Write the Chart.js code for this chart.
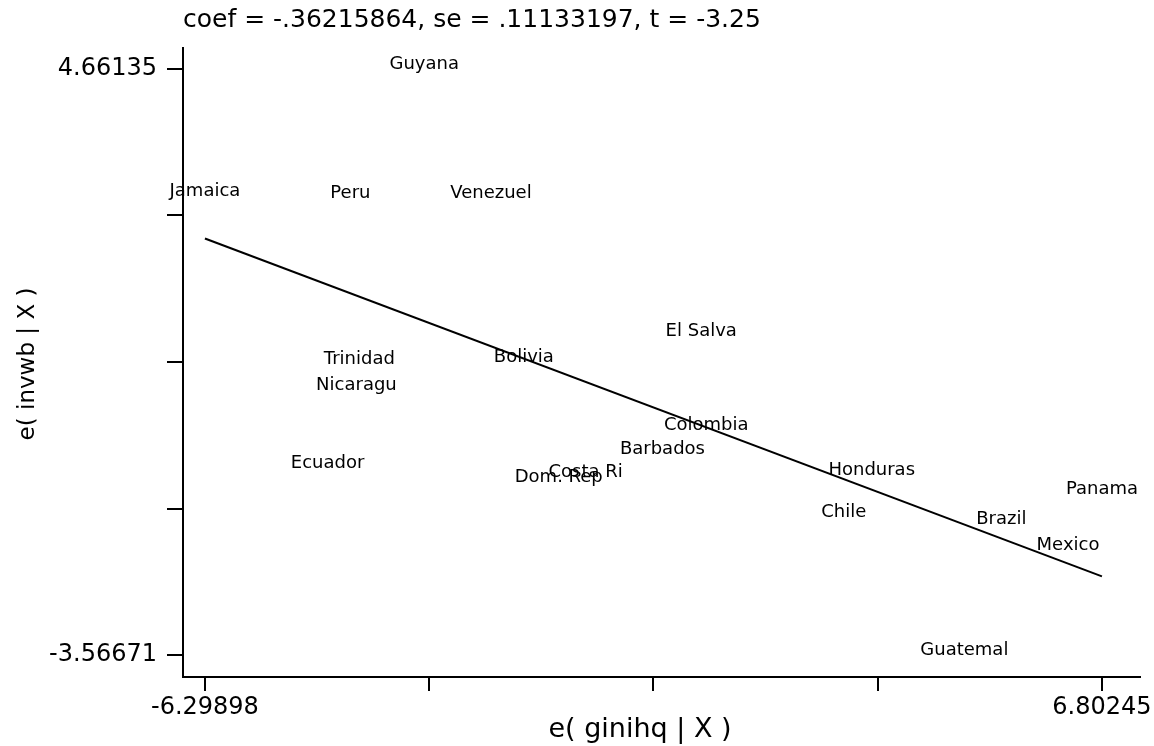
<!DOCTYPE html>
<html>
<head>
<meta charset="utf-8">
<script src="https://cdn.jsdelivr.net/npm/chart.js"></script>
<style>
  html, body { margin: 0; padding: 0; background: #fff; }
  #wrap { width: 1154px; height: 746px; }
</style>
</head>
<body>
<div id="wrap"><canvas id="avplot" width="1154" height="746"></canvas></div>
<script>
// added-variable plot: residuals of invwb vs ginihq
const countries = [
  "Jamaica", "Peru", "Venezuel", "Guyana", "El Salva", "Trinidad", "Bolivia",
  "Nicaragu", "Colombia", "Barbados", "Costa Ri", "Dom. Rep", "Ecuador",
  "Honduras", "Panama", "Chile", "Brazil", "Mexico", "Guatemal"
];
const residX = [
  -6.29898, -4.174, -2.121, -3.096, 0.950, -4.043, -1.641,
  -4.086, 1.023, 0.383, -0.738, -1.131, -4.508,
  3.440, 6.80245, 3.032, 5.332, 6.307, 4.793
];
const residY = [
  2.878, 2.850, 2.850, 4.66135, 0.912, 0.519, 0.547,
  0.154, -0.407, -0.745, -1.067, -1.138, -0.941,
  -1.039, -1.306, -1.629, -1.727, -2.092, -3.56671
];

// fitted line, slope = coef
const fitX = [-6.29898, 6.80245];
const fitY = [2.2812, -2.4636];

const xTickValues = [-6.29898, -3.02362, 0.25174, 3.52709, 6.80245];
const xTickLabels = ["-6.29898", "", "", "", "6.80245"];
const yTickValues = [-3.56671, -1.50970, 0.54733, 2.60434, 4.66135];
const yTickLabels = ["-3.56671", "", "", "", "4.66135"];

const titleText = "coef = -.36215864, se = .11133197, t = -3.25";
const xTitle = "e( ginihq | X )";
const yTitle = "e( invwb | X )";

const FONT = '"DejaVu Sans", "Liberation Sans", sans-serif';

const textPlugin = {
  id: "avText",
  afterDatasetsDraw(chart) {
    const ctx = chart.ctx;
    const xs = chart.scales.x;
    const ys = chart.scales.y;
    ctx.save();
    ctx.fillStyle = "#000";

    // country names sit on the point (baseline, centred)
    ctx.font = "18px " + FONT;
    ctx.textAlign = "center";
    ctx.textBaseline = "alphabetic";
    countries.forEach((name, i) => {
      ctx.fillText(name, xs.getPixelForValue(residX[i]), ys.getPixelForValue(residY[i]));
    });

    // header
    ctx.font = "25px " + FONT;
    ctx.textAlign = "left";
    ctx.fillText(titleText, chart.chartArea.left, 27);

    // axis titles
    ctx.font = "27px " + FONT;
    ctx.textAlign = "center";
    ctx.fillText(xTitle, 640, 737);

    ctx.translate(34, 364);
    ctx.rotate(-Math.PI / 2);
    ctx.font = "23px " + FONT;
    ctx.fillText(yTitle, 0, 0);
    ctx.restore();
  }
};

new Chart(document.getElementById("avplot"), {
  type: "scatter",
  data: {
    datasets: [
      {
        data: residX.map((x, i) => ({ x: x, y: residY[i] })),
        pointRadius: 0,
        pointHoverRadius: 0
      },
      {
        type: "line",
        data: fitX.map((x, i) => ({ x: x, y: fitY[i] })),
        borderColor: "#000",
        borderWidth: 2,
        pointRadius: 0,
        fill: false
      }
    ]
  },
  options: {
    responsive: false,
    animation: false,
    layout: { padding: { top: 48, right: 11, left: 0, bottom: 0 } },
    plugins: {
      legend: { display: false },
      tooltip: { enabled: false },
      title: { display: false }
    },
    scales: {
      x: {
        type: "linear",
        min: -6.6192,
        max: 7.3556,
        afterBuildTicks: (s) => { s.ticks = xTickValues.map((v) => ({ value: v })); },
        afterFit: (s) => { s.height = 69; },
        ticks: {
          callback: (v, i) => xTickLabels[i],
          autoSkip: false,
          maxRotation: 0,
          padding: 2,
          color: "#000",
          font: { family: FONT, size: 24 }
        },
        grid: { drawOnChartArea: false, drawTicks: true, tickLength: 14, color: "#000", lineWidth: 2 },
        border: { display: true, color: "#000", width: 2 }
      },
      y: {
        type: "linear",
        min: -3.8756,
        max: 4.9562,
        afterBuildTicks: (s) => { s.ticks = yTickValues.map((v) => ({ value: v })); },
        afterFit: (s) => { s.width = 183; },
        ticks: {
          callback: (v, i) => yTickLabels[i],
          autoSkip: false,
          padding: 10,
          color: "#000",
          font: { family: FONT, size: 24 }
        },
        grid: { drawOnChartArea: false, drawTicks: true, tickLength: 16, color: "#000", lineWidth: 2 },
        border: { display: true, color: "#000", width: 2 }
      }
    }
  },
  plugins: [textPlugin]
});
</script>
</body>
</html>
